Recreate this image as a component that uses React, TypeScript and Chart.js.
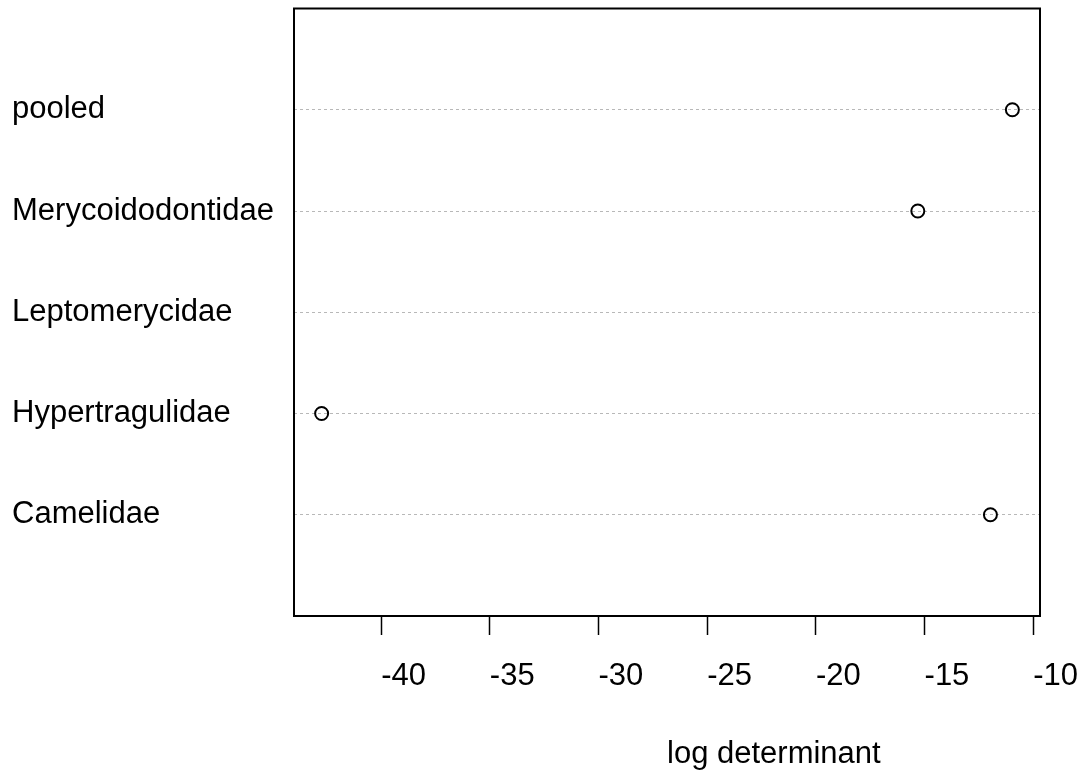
import React, { useEffect, useRef } from "react";
import { Chart, registerables } from "chart.js";

Chart.register(...registerables);

// Rows from bottom (1) to top (5), as in R's dotchart
const categories = ["Camelidae", "Hypertragulidae", "Leptomerycidae", "Merycoidodontidae", "pooled"];
const logDeterminant: (number | null)[] = [-11.97, -42.74, null, -15.31, -10.96];
const xTicks = [-40, -35, -30, -25, -20, -15, -10];
const xTitle = "log determinant";

const FONT_FAMILY = '"Liberation Sans", Arial, Helvetica, sans-serif';
const FONT_SIZE = 31;

export default function App() {
  const ref = useRef<HTMLCanvasElement | null>(null);

  useEffect(() => {
    if (!ref.current) return;
    const vals = logDeterminant.filter((v): v is number => v !== null);
    const lo = Math.min(...vals);
    const hi = Math.max(...vals);
    const ext = (hi - lo) * 0.04;

    const points = logDeterminant
      .map((v, i) => (v === null ? null : { x: v, y: i + 1 }))
      .filter((p) => p !== null) as { x: number; y: number }[];

    const boxPlugin = {
      id: "rbox",
      afterDraw(chart: any) {
        const { ctx, chartArea } = chart;
        ctx.save();
        ctx.strokeStyle = "#000";
        ctx.lineWidth = 2;
        ctx.strokeRect(chartArea.left, chartArea.top, chartArea.right - chartArea.left, chartArea.bottom - chartArea.top);
        ctx.fillStyle = "#000";
        ctx.font = `${FONT_SIZE}px ${FONT_FAMILY}`;
        ctx.textAlign = "left";
        ctx.textBaseline = "alphabetic";
        ctx.fillText(xTitle, (chartArea.left + chartArea.right) / 2, chartArea.bottom + 147);
        ctx.restore();
      },
    };

    const chart = new Chart(ref.current, {
      type: "scatter",
      data: {
        datasets: [
          {
            data: points,
            pointStyle: "circle",
            pointRadius: 6.5,
            pointBorderWidth: 2,
            pointBorderColor: "#000",
            pointBackgroundColor: "rgba(255,255,255,0)",
            showLine: false,
          },
        ],
      },
      options: {
        responsive: false,
        animation: false,
        devicePixelRatio: 1,
        layout: { padding: { left: 12, top: 6, right: 38, bottom: 0 } },
        plugins: {
          legend: { display: false },
          tooltip: { enabled: false },
          title: { display: false },
        },
        scales: {
          x: {
            type: "linear",
            min: lo - ext,
            max: hi + ext,
            afterBuildTicks: (scale: any) => {
              scale.ticks = xTicks.map((v) => ({ value: v }));
            },
            afterFit: (scale: any) => {
              scale.height = 158;
              scale.paddingLeft = 0;
              scale.paddingRight = 0;
            },
            border: { display: false },
            grid: {
              drawOnChartArea: false,
              drawTicks: true,
              tickLength: 19,
              tickWidth: 1.5,
              tickColor: "#000",
            },
            ticks: {
              align: "start",
              maxRotation: 0,
              minRotation: 0,
              autoSkip: false,
              padding: 23,
              color: "#000",
              font: { family: FONT_FAMILY, size: FONT_SIZE },
              callback: (v: any) => String(v),
            },
          },
          y: {
            type: "linear",
            min: 0,
            max: categories.length + 1,
            afterBuildTicks: (scale: any) => {
              scale.ticks = categories.map((_, i) => ({ value: i + 1 }));
            },
            afterFit: (scale: any) => {
              scale.width = 282;
              scale.paddingTop = 0;
              scale.paddingBottom = 0;
            },
            border: { display: false, dash: [3, 3] },
            grid: {
              drawOnChartArea: true,
              drawTicks: false,
              color: "#b8b8b8",
              lineWidth: 1,
            },
            ticks: {
              crossAlign: "far",
              autoSkip: false,
              padding: 0,
              color: "#000",
              font: { family: FONT_FAMILY, size: FONT_SIZE },
              callback: (v: any) => categories[Number(v) - 1] ?? "",
            },
          },
        },
      },
      plugins: [boxPlugin],
    });

    return () => chart.destroy();
  }, []);

  return (
    <div style={{ position: "absolute", left: 0, top: 0, width: 1078, height: 774, background: "#fff" }}>
      <canvas ref={ref} width={1078} height={774} style={{ display: "block", width: 1078, height: 774 }} />
    </div>
  );
}
